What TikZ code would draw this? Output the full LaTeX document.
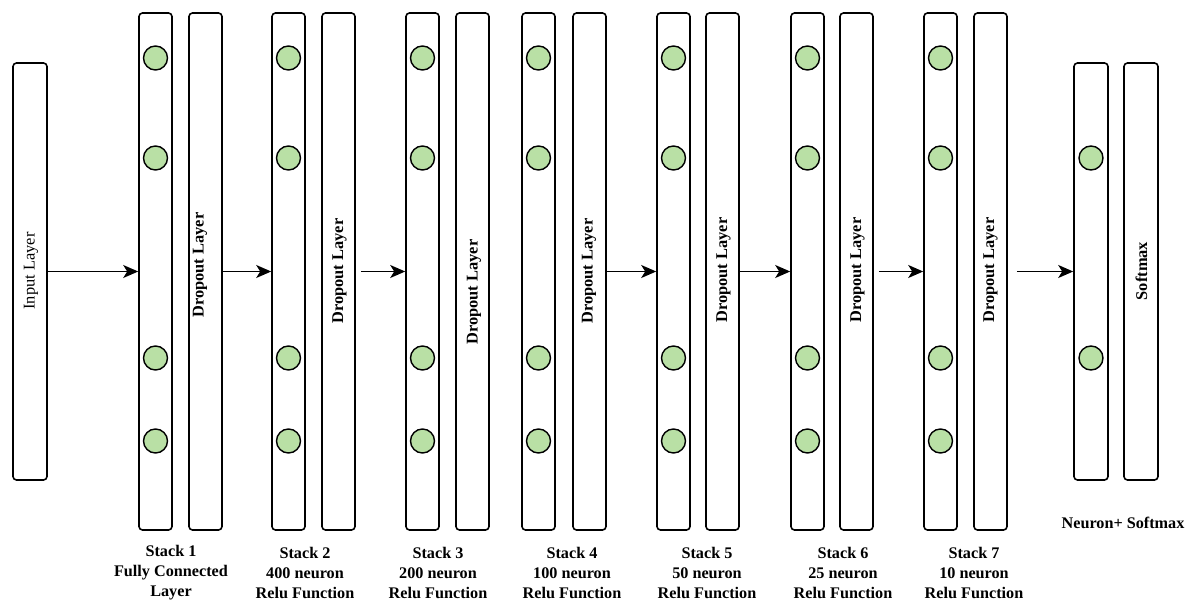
\documentclass[tikz,border=0pt]{standalone}
\usepackage{fontspec}
\setmainfont{Liberation Serif}
\usetikzlibrary{arrows.meta}
\definecolor{neurongreen}{HTML}{B9E0A5}
\begin{document}
\begin{tikzpicture}[x=1pt,y=-1pt,
  layerbox/.style={draw=black, line width=1.6pt, rounded corners=3.5pt, minimum width=33pt, inner sep=0pt, fill=white},
  tallbox/.style={layerbox, minimum height=517pt},
  shortbox/.style={layerbox, minimum height=417pt},
  neuron/.style={circle, draw=black, line width=1.4pt, fill=neurongreen, minimum size=24pt, inner sep=0pt},
  vtext/.style={rotate=90, font=\fontsize{16.4}{20}\selectfont, inner sep=0pt},
  vbold/.style={vtext, font=\fontsize{16.4}{20}\selectfont\bfseries},
  caption/.style={align=center, font=\fontsize{16.2}{20}\selectfont\bfseries, inner sep=0pt},
  flow/.style={line width=1.6pt, -{Stealth[length=15pt,width=13pt,inset=4pt]}}
]
\useasboundingbox (0,0) rectangle (1200,615);

% input layer
\node[shortbox, minimum width=34pt] (in) at (30,271.5) {};
\node[vtext] (tin) at (31,271) {Input Layer};

% stacks and dropouts
\foreach \i/\sx/\dx/\dy/\dtx in {1/155.5/205.5/265/200, 2/288.5/338.5/271/339.5, 3/422.5/472.5/292/474, 4/538.5/589.5/271/589, 5/673.5/722.5/270/723.5, 6/807.5/856.5/270/857.5, 7/940.5/990.5/270/990.5}{
  \node[tallbox] (s\i) at (\sx,271.5) {};
  \node[tallbox] (d\i) at (\dx,271.5) {};
  \node[vbold] (td\i) at (\dtx,\dy) {Dropout Layer};
  \node[neuron] (n\i a) at (\sx,58) {};
  \node[neuron] (n\i b) at (\sx,158) {};
  \node[neuron] (n\i c) at (\sx,358) {};
  \node[neuron] (n\i d) at (\sx,441) {};
}

% output
\node[shortbox, minimum width=34pt] (out) at (1091,271.5) {};
\node[shortbox, minimum width=34pt] (soft) at (1141,271.5) {};
\node[vbold] (tsoft) at (1141.5,271) {Softmax};
\node[neuron] (noa) at (1091,158) {};
\node[neuron] (nob) at (1091,358) {};

% arrows
\draw[flow] (in.east) -- (s1.west);
\draw[flow] (d1.east) -- (s2.west);
\draw[flow, shorten <=5pt] (d2.east) -- (s3.west);
\draw[flow] (d4.east) -- (s5.west);
\draw[flow] (d5.east) -- (s6.west);
\draw[flow, shorten <=5pt] (d6.east) -- (s7.west);
\draw[flow, shorten <=9pt] (d7.east) -- (out.west);

% captions
\node[caption] (c1) at (171,573) {Stack 1\\Fully Connected\\Layer};
\node[caption] (c2) at (305,573) {Stack 2\\400 neuron\\Relu Function};
\node[caption] (c3) at (438,573) {Stack 3\\200 neuron\\Relu Function};
\node[caption] (c4) at (572,573) {Stack 4\\100 neuron\\Relu Function};
\node[caption] (c5) at (707,573) {Stack 5\\50 neuron\\Relu Function};
\node[caption] (c6) at (843,573) {Stack 6\\25 neuron\\Relu Function};
\node[caption] (c7) at (974,573) {Stack 7\\10 neuron\\Relu Function};
\node[caption] (c8) at (1123,523) {Neuron+ Softmax};
\end{tikzpicture}
\end{document}
